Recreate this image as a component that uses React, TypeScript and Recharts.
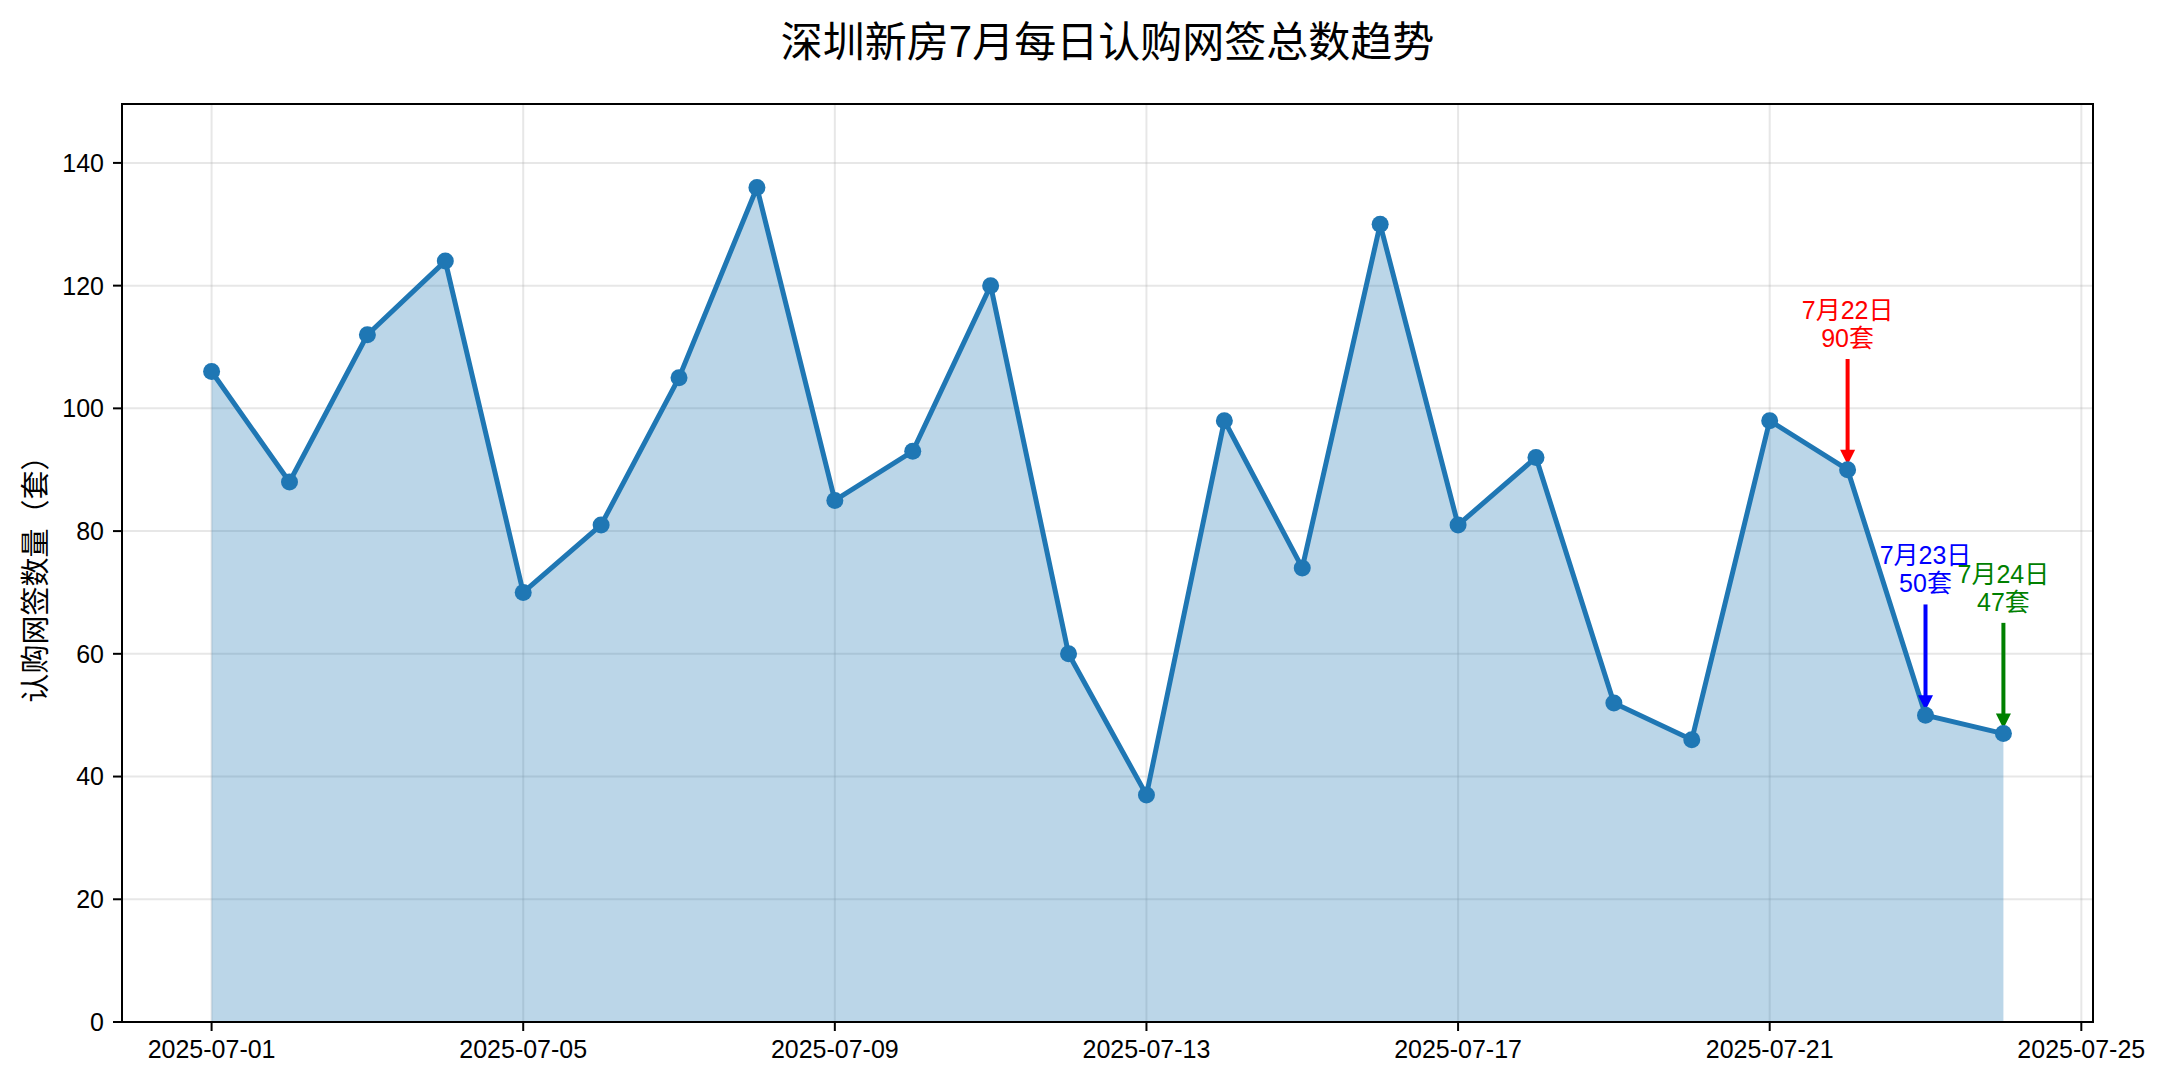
import React from "react";
import {
  ComposedChart,
  Area,
  Line,
  XAxis,
  YAxis,
  CartesianGrid,
  ReferenceLine,
  ReferenceArea,
} from "recharts";

const dates = [
  "2025-07-01", "2025-07-02", "2025-07-03", "2025-07-04", "2025-07-05", "2025-07-06",
  "2025-07-07", "2025-07-08", "2025-07-09", "2025-07-10", "2025-07-11", "2025-07-12",
  "2025-07-13", "2025-07-14", "2025-07-15", "2025-07-16", "2025-07-17", "2025-07-18",
  "2025-07-19", "2025-07-20", "2025-07-21", "2025-07-22", "2025-07-23", "2025-07-24",
];
const counts = [
  106, 88, 112, 124, 70, 81, 105, 136, 85, 93, 120, 60,
  37, 98, 74, 130, 81, 92, 52, 46, 98, 90, 50, 47,
];
const tickLabels = [
  "2025-07-01", "2025-07-05", "2025-07-09", "2025-07-13",
  "2025-07-17", "2025-07-21", "2025-07-25",
];
const yTicks = [0, 20, 40, 60, 80, 100, 120, 140];

// annotated days
const noteDates = ["2025-07-22", "2025-07-23", "2025-07-24"];
const noteColors = ["#ff0000", "#0000ff", "#008000"];

const BLUE = "#1f77b4";
const FONT = '"Liberation Sans", "Noto Sans CJK SC", sans-serif';
const CJK = '"Noto Sans CJK SC", "Liberation Sans", sans-serif';

const toDay = (d: string) => (Date.parse(d) - Date.parse(dates[0])) / 86400000;

const chartData = dates.map((d, i) => ({ day: toDay(d), count: counts[i] }));
const xTicks = tickLabels.map(toDay);

const X_MIN = -1.15;
const X_MAX = 24.15;
const Y_MAX = 149.6;

function renderNote(p: any, color: string, lines: string[]) {
  const { x1, y1, y2 } = p;
  const tip = y2 - 5;
  const start = y1 + 12;
  return (
    <g>
      {lines.map((t, i) => (
        <text
          key={i}
          x={x1}
          y={y1 - 37 + i * 28}
          textAnchor="middle"
          dominantBaseline="central"
          fill={color}
          fontSize={25}
          fontFamily={FONT}
        >
          {t}
        </text>
      ))}
      <line x1={x1} y1={start} x2={x1} y2={tip - 12} stroke={color} strokeWidth={4} />
      <polygon points={`${x1 - 7.5},${tip - 15} ${x1 + 7.5},${tip - 15} ${x1},${tip}`} fill={color} />
    </g>
  );
}

const App = () => {
  return (
    <div
      style={{
        position: "absolute",
        left: 0,
        top: 0,
        width: 2169,
        height: 1080,
        background: "#fff",
      }}
    >
      <div
        style={{
          position: "absolute",
          left: 122,
          width: 1971,
          top: 17,
          textAlign: "center",
          fontFamily: CJK,
          fontSize: 42,
          lineHeight: "44px",
          color: "#000",
        }}
      >
        深圳新房7月每日认购网签总数趋势
      </div>
      <ComposedChart
        width={2169}
        height={1080}
        data={chartData}
        margin={{ top: 104, right: 76, bottom: 0, left: 0 }}
      >
        <XAxis
          dataKey="day"
          type="number"
          domain={[X_MIN, X_MAX]}
          allowDataOverflow
          ticks={xTicks}
          tickFormatter={(v: number) => tickLabels[xTicks.indexOf(v)]}
          height={58}
          tickSize={9}
          tickMargin={9}
          tick={{ fill: "#000", fontSize: 25, fontFamily: FONT }}
          tickLine={{ stroke: "#000", strokeWidth: 2 }}
          axisLine={{ stroke: "#000", strokeWidth: 2 }}
        />
        <YAxis
          type="number"
          domain={[0, Y_MAX]}
          allowDataOverflow
          ticks={yTicks}
          width={122}
          tickSize={9}
          tickMargin={9}
          tick={{ fill: "#000", fontSize: 25, fontFamily: FONT }}
          tickLine={{ stroke: "#000", strokeWidth: 2 }}
          axisLine={{ stroke: "#000", strokeWidth: 2 }}
          label={{
            content: ({ viewBox }: any) => {
              const cx = viewBox.x + 33;
              const cy = viewBox.y + viewBox.height / 2 + 9;
              return (
                <text
                  x={cx}
                  y={cy}
                  transform={`rotate(-90 ${cx} ${cy})`}
                  textAnchor="middle"
                  dominantBaseline="central"
                  fontSize={29}
                  fontFamily={CJK}
                  fill="#000"
                >
                  认购网签数量（套）
                </text>
              );
            },
          }}
        />
        <Area
          dataKey="count"
          type="linear"
          baseValue={0}
          fill={BLUE}
          fillOpacity={0.3}
          stroke="none"
          isAnimationActive={false}
        />
        <CartesianGrid stroke="#b0b0b0" strokeOpacity={0.3} strokeWidth={2} />
        <Line
          dataKey="count"
          type="linear"
          stroke={BLUE}
          strokeWidth={5}
          dot={{ r: 8.5, fill: BLUE, stroke: BLUE, strokeWidth: 0 }}
          activeDot={false}
          isAnimationActive={false}
        />
        {noteDates.map((d, i) => {
          const v = counts[dates.indexOf(d)];
          const day = toDay(d);
          const lines = [`${Number(d.slice(5, 7))}月${Number(d.slice(8))}日`, `${v}套`];
          return (
            <ReferenceLine
              key={d}
              segment={[
                { x: day, y: v + 20 },
                { x: day, y: v },
              ]}
              ifOverflow="visible"
              shape={(p: any) => renderNote(p, noteColors[i], lines)}
            />
          );
        })}
        <ReferenceArea
          x1={X_MIN}
          x2={X_MAX}
          y1={0}
          y2={Y_MAX}
          fill="none"
          stroke="#000"
          strokeWidth={2}
          fillOpacity={0}
          ifOverflow="visible"
        />
      </ComposedChart>
    </div>
  );
};

export default App;
